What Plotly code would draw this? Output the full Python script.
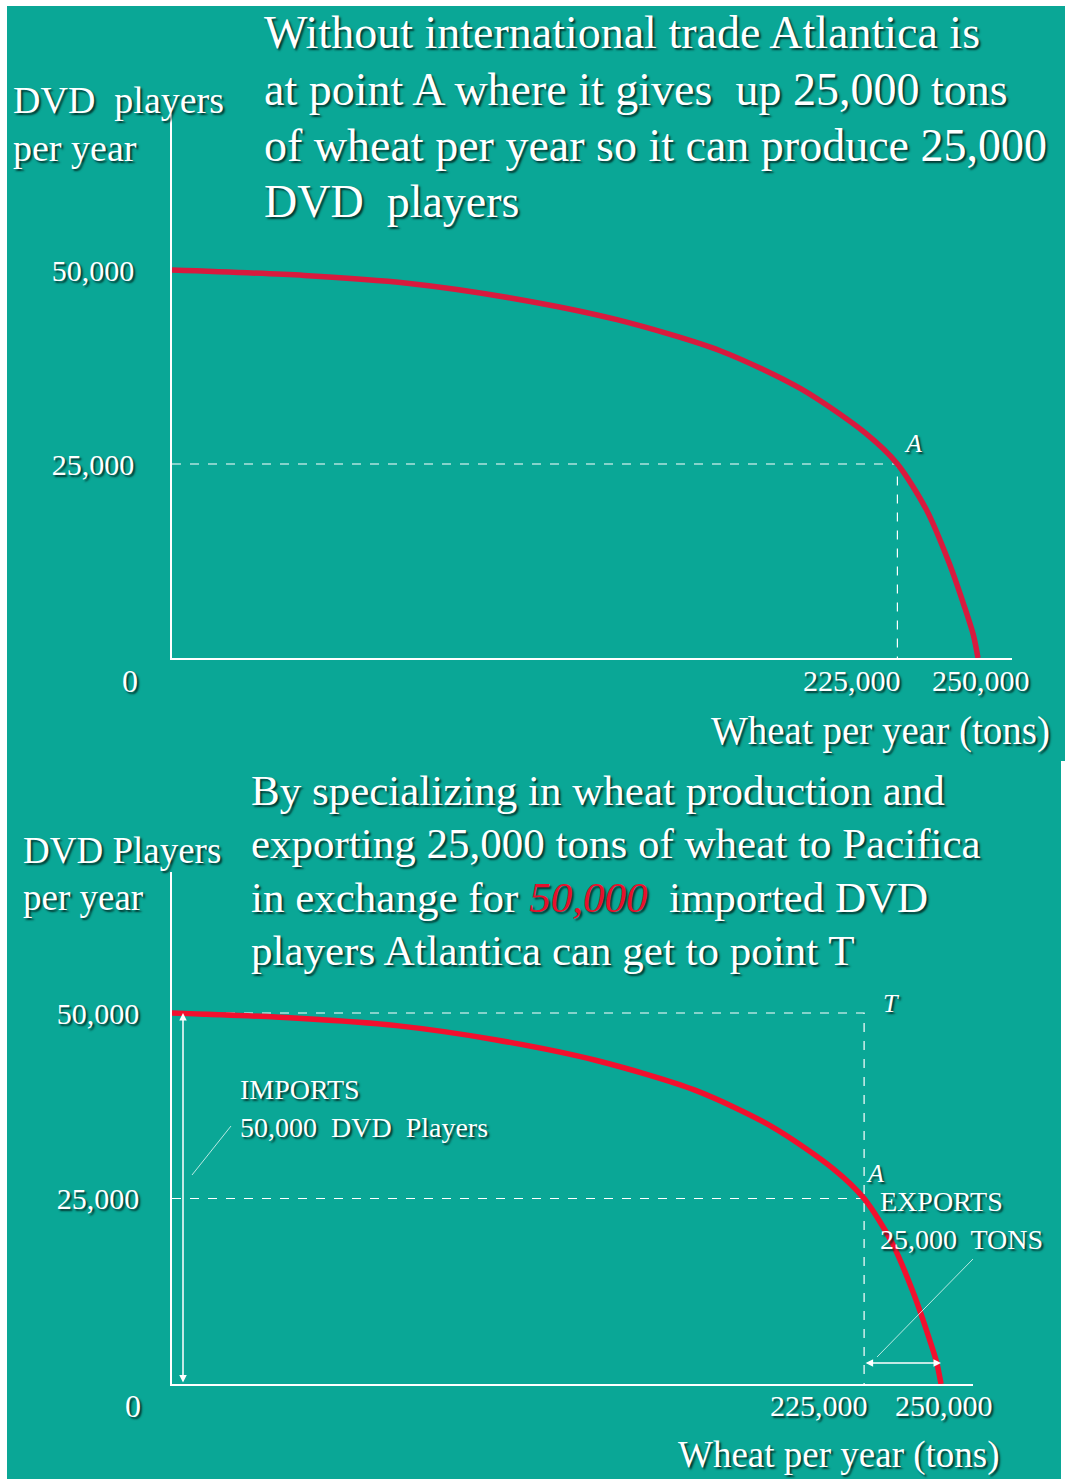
import plotly.graph_objects as go

W, H = 1067, 1479

# Atlantica's production possibilities frontier (wheat in tons, DVD players per year)
wheat_ppf = [0, 41000, 73000, 105000, 138000, 170000, 195000, 215000,
             225000, 234000, 241000, 245800, 248600, 250000]
dvd_ppf = [50000, 49300, 48300, 46400, 43600, 39600, 34700, 29000,
           25000, 19100, 12300, 6600, 2900, 0]

# Key points
wheat_at_a = 225000
dvd_at_a = 25000
wheat_at_t = 225000
dvd_at_t = 50000
wheat_max = 250000
dvd_imports = 50000

# Tick labels
x_tick_vals = [225000, 250000]
x_tick_text = ["225,000", "250,000"]
y_tick_vals = [25000, 50000]
y_tick_text = ["25,000", "50,000"]

NB = "\u00a0"
top_title = [
    "Without international trade Atlantica is",
    "at point A where it gives" + NB + " up 25,000 tons",
    "of wheat per year so it can produce 25,000",
    "DVD" + NB + " players",
]
bottom_title = [
    "By specializing in wheat production and",
    "exporting 25,000 tons of wheat to Pacifica",
    "in exchange for <span style='color:#e8102c'><i>50,000</i></span>" + NB + " imported DVD",
    "players Atlantica can get to point T",
]

SERIF = "Liberation Serif, Times New Roman, serif"
SHADOW = "2px 2px 2px rgba(0,35,30,0.85)"
TEAL = "#0aa796"
RED_TOP = "#d81a3e"
RED_BOTTOM = "#f2102e"


def fx(px):
    return px / W


def fy(py):
    return 1 - py / H


def font(size, color="white"):
    return dict(family=SERIF, size=size, color=color, shadow=SHADOW)


fig = go.Figure()

# ---- upper panel: autarky ----
fig.add_trace(go.Scatter(
    x=[0, wheat_at_a, wheat_at_a], y=[dvd_at_a, dvd_at_a, 0],
    mode="lines", line=dict(color="white", width=1.2, dash="dash"),
    xaxis="x", yaxis="y", hoverinfo="skip", showlegend=False))
fig.add_trace(go.Scatter(
    x=wheat_ppf, y=dvd_ppf, mode="lines",
    line=dict(color=RED_TOP, width=5.5, shape="spline", smoothing=0.8),
    xaxis="x", yaxis="y", showlegend=False))

# ---- lower panel: with trade ----
fig.add_trace(go.Scatter(
    x=[0, wheat_at_t, wheat_at_t], y=[dvd_at_t, dvd_at_t, 0],
    mode="lines", line=dict(color="white", width=1.2, dash="dash"),
    xaxis="x2", yaxis="y2", hoverinfo="skip", showlegend=False))
fig.add_trace(go.Scatter(
    x=[0, wheat_at_a], y=[dvd_at_a, dvd_at_a],
    mode="lines", line=dict(color="white", width=1.2, dash="dash"),
    xaxis="x2", yaxis="y2", hoverinfo="skip", showlegend=False))
fig.add_trace(go.Scatter(
    x=wheat_ppf, y=dvd_ppf, mode="lines",
    line=dict(color=RED_BOTTOM, width=5.5, shape="spline", smoothing=0.8),
    xaxis="x2", yaxis="y2", showlegend=False))

axis_common = dict(showgrid=False, zeroline=False, showline=True,
                   linecolor="white", linewidth=1.5, fixedrange=True)

fig.update_layout(
    width=W, height=H, autosize=False,
    margin=dict(l=0, r=0, t=0, b=0),
    paper_bgcolor="white", plot_bgcolor="rgba(0,0,0,0)",
    xaxis=dict(domain=[fx(172), fx(1012)], range=[0, 260546],
               showticklabels=False, anchor="y", **axis_common),
    yaxis=dict(domain=[fy(658), fy(110)], range=[0, 70619], anchor="x",
               tickvals=y_tick_vals, ticktext=y_tick_text, ticks="",
               ticklabelstandoff=30, tickfont=font(30), **axis_common),
    xaxis2=dict(domain=[fx(172), fx(973)], range=[0, 260403],
                showticklabels=False, anchor="y2", **axis_common),
    yaxis2=dict(domain=[fy(1384), fy(872)], range=[0, 69003], anchor="x2",
                tickvals=y_tick_vals, ticktext=y_tick_text, ticks="",
                ticklabelstandoff=25, tickfont=font(30), **axis_common),
)

# slide backgrounds
fig.add_shape(type="rect", xref="paper", yref="paper",
              x0=fx(7), x1=fx(1065), y0=fy(761), y1=fy(6),
              fillcolor=TEAL, line=dict(width=0), layer="below")
fig.add_shape(type="rect", xref="paper", yref="paper",
              x0=fx(7), x1=fx(1061), y0=fy(1479), y1=fy(761),
              fillcolor=TEAL, line=dict(width=0), layer="below")

ann = []

# titles
for i, line in enumerate(top_title):
    ann.append(dict(text=line, x=fx(262), y=fy(33 + i * 56.3), xref="paper", yref="paper",
                    xanchor="left", yanchor="middle", showarrow=False, font=font(46)))
for i, line in enumerate(bottom_title):
    ann.append(dict(text=line, x=fx(249), y=fy(790 + i * 53.5), xref="paper", yref="paper",
                    xanchor="left", yanchor="middle", showarrow=False, font=font(43)))

# axis titles
for txt, x, y, s in [("DVD" + NB + " players", 11, 100, 38), ("per year", 11, 148, 38),
                     ("Wheat per year (tons)", 1052, 731, 39),
                     ("DVD Players", 21, 850, 37), ("per year", 21, 897, 37),
                     ("Wheat per year (tons)", 1002, 1455, 37)]:
    anchor = "right" if txt.startswith("Wheat") else "left"
    ann.append(dict(text=txt, x=fx(x), y=fy(y), xref="paper", yref="paper",
                    xanchor=anchor, yanchor="middle", showarrow=False, font=font(s)))

# x tick labels and origin
for xr, yr, ys, origin_shift, a_shift in [("x", "y", -22, -42, 6), ("x2", "y2", -21, -39, 6)]:
    ann.append(dict(text="0", x=0, y=0, xref=xr, yref=yr, xshift=origin_shift, yshift=ys - 1,
                    xanchor="center", yanchor="middle", showarrow=False, font=font(32)))
    ann.append(dict(text=x_tick_text[0], x=x_tick_vals[0], y=0, xref=xr, yref=yr,
                    xshift=a_shift, yshift=ys, xanchor="right", yanchor="middle",
                    showarrow=False, font=font(30)))
    ann.append(dict(text=x_tick_text[1], x=x_tick_vals[1], y=0, xref=xr, yref=yr,
                    xshift=3, yshift=ys, xanchor="center", yanchor="middle",
                    showarrow=False, font=font(30)))

# point labels
ann.append(dict(text="<i>A</i>", x=wheat_at_a, y=dvd_at_a, xref="x", yref="y",
                xshift=16, yshift=21, showarrow=False, font=font(26)))
ann.append(dict(text="<i>A</i>", x=wheat_at_a, y=dvd_at_a, xref="x2", yref="y2",
                xshift=11, yshift=25, showarrow=False, font=font(26)))
ann.append(dict(text="<i>T</i>", x=wheat_at_t, y=dvd_at_t, xref="x2", yref="y2",
                xshift=27, yshift=10, showarrow=False, font=font(26)))

# imports / exports callouts
ann.append(dict(text="IMPORTS", x=fx(238), y=fy(1089), xref="paper", yref="paper",
                xanchor="left", yanchor="middle", showarrow=False, font=font(28)))
ann.append(dict(text="50,000" + NB + " DVD" + NB + " Players", x=fx(238), y=fy(1127),
                xref="paper", yref="paper", xanchor="left", yanchor="middle",
                showarrow=False, font=font(28)))
ann.append(dict(text="EXPORTS", x=fx(878), y=fy(1201), xref="paper", yref="paper",
                xanchor="left", yanchor="middle", showarrow=False, font=font(28)))
ann.append(dict(text="25,000" + NB + " TONS", x=fx(878), y=fy(1239), xref="paper", yref="paper",
                xanchor="left", yanchor="middle", showarrow=False, font=font(28)))

# double-headed arrows for the traded quantities
ann.append(dict(text="", x=0, y=dvd_imports, ax=0, ay=0, xref="x2", yref="y2",
                axref="x2", ayref="y2", xshift=11, showarrow=True, arrowside="end+start",
                arrowhead=2, arrowsize=1, arrowwidth=1.5, arrowcolor="white",
                standoff=0, startstandoff=0))
ann.append(dict(text="", x=wheat_max, y=0, ax=wheat_max - 25000, ay=0, xref="x2", yref="y2",
                axref="x2", ayref="y2", yshift=21, showarrow=True, arrowside="end+start",
                arrowhead=2, arrowsize=1, arrowwidth=1.5, arrowcolor="white",
                standoff=0, startstandoff=0))

fig.update_layout(annotations=ann)

# leader lines from the callout text
for x0, y0, x1, y1 in [(192, 1175, 231, 1126), (877, 1357, 973, 1259)]:
    fig.add_shape(type="line", xref="paper", yref="paper",
                  x0=fx(x0), y0=fy(y0), x1=fx(x1), y1=fy(y1),
                  line=dict(color="rgba(215,245,240,0.85)", width=1))

fig.write_html("out.html", config={"displayModeBar": False})
